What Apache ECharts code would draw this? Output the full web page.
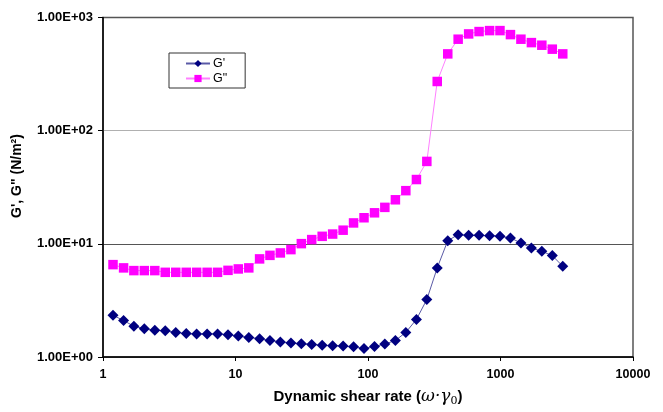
<!DOCTYPE html>
<html><head><meta charset="utf-8">
<script src="https://cdn.jsdelivr.net/npm/echarts@6/dist/echarts.min.js"></script>
<style>html,body{margin:0;padding:0;background:#fff}#c{width:663px;height:412px}</style>
</head><body><div id="c"></div>
<script>
const shearRate = [1.19,1.43,1.71,2.05,2.46,2.95,3.54,4.25,5.09,6.11,7.32,8.78,10.5,12.6,15.2,18.2,21.8,26.2,31.4,37.6,45.1,54.1,64.9,77.8,93.3,112,134,161,193,232,278,333,400,479,575,689,827,991,1189,1426,1711,2051,2460,2951];
const gPrime = [2.34,2.10,1.87,1.78,1.72,1.71,1.65,1.61,1.60,1.60,1.60,1.57,1.53,1.49,1.45,1.40,1.36,1.33,1.31,1.29,1.27,1.26,1.25,1.23,1.19,1.24,1.30,1.40,1.65,2.15,3.22,6.13,10.67,12.06,11.88,11.88,11.81,11.65,11.27,10.19,9.2,8.59,7.87,6.33];
const gDoublePrime = [6.55,6.13,5.8,5.8,5.8,5.6,5.6,5.6,5.6,5.6,5.6,5.83,6.0,6.13,7.36,7.91,8.31,8.89,10.04,10.9,11.65,12.2,13.2,15.3,17.0,18.8,21.0,24.5,29.5,37.0,53.5,272,477,643,716,751,766,766,706,643,600,569,525,477];
const yTickLabels = ['1.00E+00','1.00E+01','1.00E+02','1.00E+03'];
const xTickLabels = ['1','10','100','1000','10000'];
const seriesNames = ["G'", 'G"'];
const yTitle = "G', G\" (N/m²)";

const chart = echarts.init(document.getElementById('c'));
const font = 'Liberation Sans, Arial, sans-serif';
chart.setOption({
  animation: false,
  backgroundColor: '#fff',
  grid: {left: 103, right: 30, top: 17.5, bottom: 54.5, show: true, borderColor: '#555', borderWidth: 1.5},
  legend: {
    orient: 'vertical', left: 169, top: 53,
    borderColor: '#333', borderWidth: 1, padding: [4, 18, 3, 16], itemGap: 2,
    itemWidth: 24, itemHeight: 9,
    textStyle: {fontFamily: font, fontSize: 12.5, lineHeight: 12, color: '#000', padding: [0,0,0,-2]},
    data: seriesNames
  },
  graphic: [{
    type: 'text', x: 17, y: 176, rotation: Math.PI / 2,
    style: {text: yTitle, font: 'bold 14px Liberation Sans, Arial, sans-serif', fill: '#000', align: 'center', verticalAlign: 'middle'}
  }],
  xAxis: {
    type: 'log', logBase: 10, min: 1, max: 10000,
    axisLine: {lineStyle: {color: '#000', width: 1.5}},
    axisTick: {show: true, length: 4, lineStyle: {color: '#000'}},
    minorTick: {show: false},
    splitLine: {show: false},
    axisLabel: {
      fontFamily: font, fontSize: 12.5, fontWeight: 'bold', color: '#000', margin: 11,
      formatter: v => xTickLabels[Math.round(Math.log10(v))]
    },
    name: '{t|Dynamic shear rate (}{g|ω·γ}{s|0}{t|)}',
    nameLocation: 'middle', nameGap: 30,
    nameTextStyle: {
      rich: {
        t: {fontFamily: font, fontSize: 15, fontWeight: 'bold', color: '#000'},
        g: {fontFamily: 'DejaVu Serif, serif', fontSize: 17, fontStyle: 'italic', color: '#000'},
        s: {fontFamily: 'DejaVu Serif, serif', fontSize: 11, color: '#000', padding: [9,0,0,0]}
      }
    }
  },
  yAxis: {
    type: 'log', logBase: 10, min: 1, max: 1000,
    axisLine: {show: true, lineStyle: {color: '#000', width: 1.5}},
    axisTick: {show: true, length: 5, lineStyle: {color: '#000'}},
    minorTick: {show: false},
    splitLine: {show: true, showMinLine: true, lineStyle: {color: ['#555','#555','#b0b0b0','#555'], width: 1}},
    axisLabel: {
      fontFamily: font, fontSize: 13, fontWeight: 'bold', color: '#000', margin: 10,
      formatter: v => yTickLabels[Math.round(Math.log10(v))]
    }
  },
  series: [
    {
      name: seriesNames[0], type: 'line', symbol: 'diamond', symbolSize: 11,
      data: shearRate.map((x, i) => [x, gPrime[i]]),
      itemStyle: {color: '#000080'},
      lineStyle: {color: '#5a5aa6', width: 1}, z: 3
    },
    {
      name: seriesNames[1], type: 'line', symbol: 'rect', symbolSize: 9.5,
      data: shearRate.map((x, i) => [x, gDoublePrime[i]]),
      itemStyle: {color: '#ff00ff'},
      lineStyle: {color: '#ff80ff', width: 1}, z: 2
    }
  ]
});
</script></body></html>
